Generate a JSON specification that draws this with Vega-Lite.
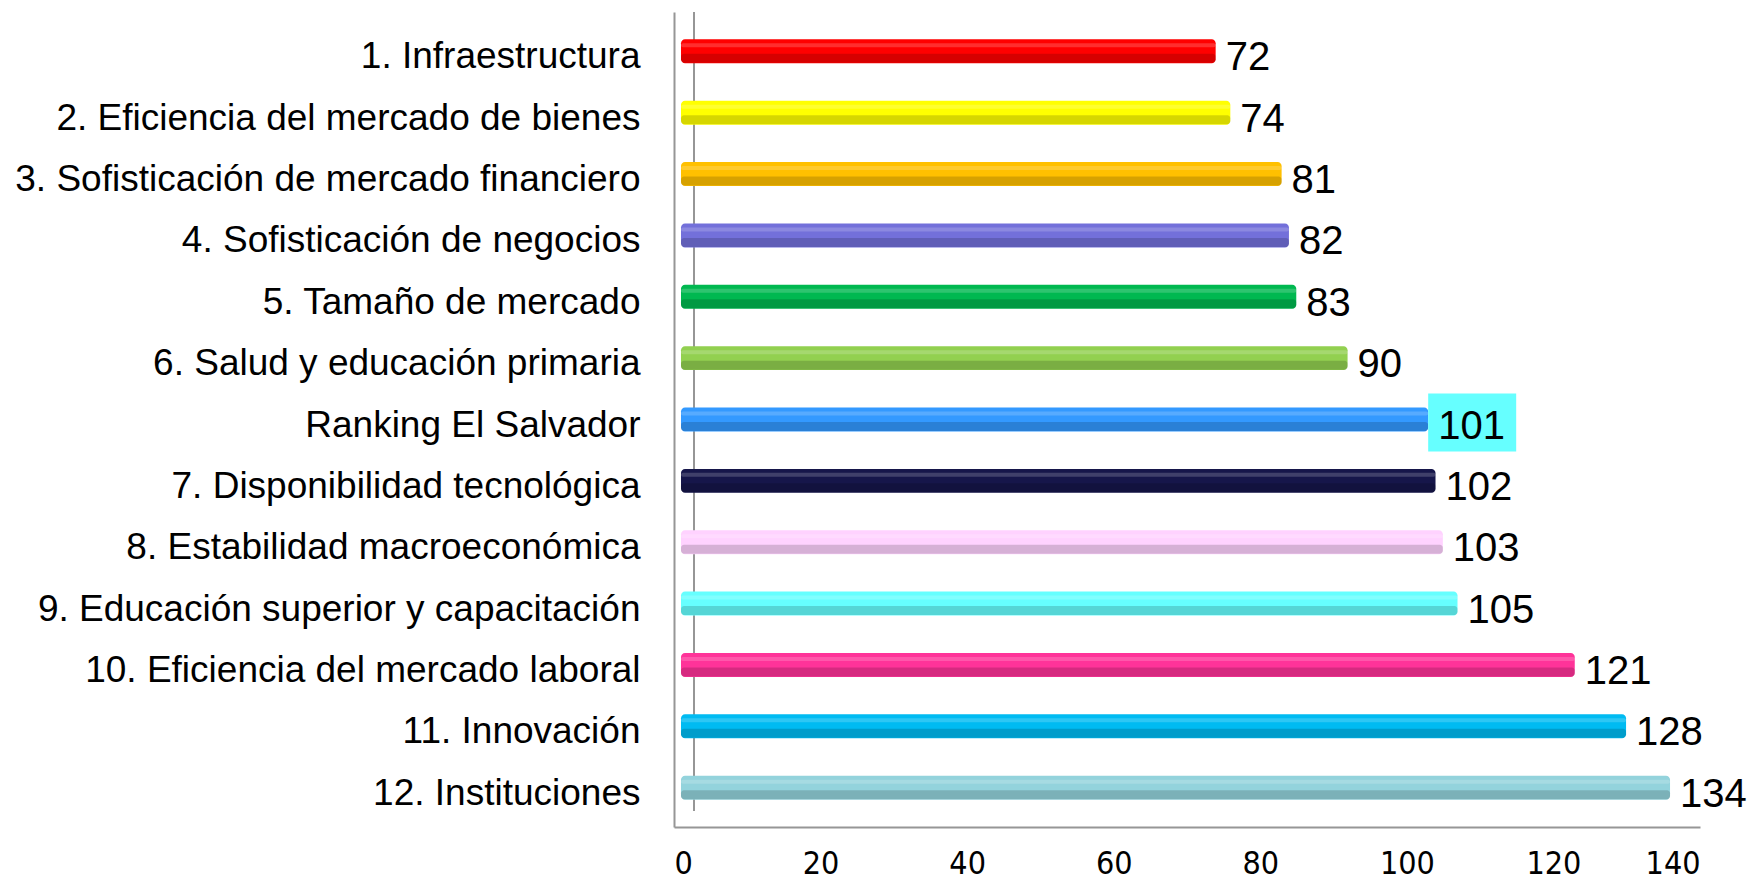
{
  "$schema": "https://vega.github.io/schema/vega-lite/v6.json",
  "width": 1026,
  "height": 815,
  "autosize": {"type": "none"},
  "padding": {"left": 674, "top": 12, "right": 52, "bottom": 53},
  "background": "white",
  "config": {"view": {"stroke": null}},
  "data": {
    "values": [
      {"cat": "1. Infraestructura", "value": 72, "color": "#FF0000"},
      {"cat": "2. Eficiencia del mercado de bienes", "value": 74, "color": "#FFFF00"},
      {"cat": "3. Sofisticación de mercado financiero", "value": 81, "color": "#FFC000"},
      {"cat": "4. Sofisticación de negocios", "value": 82, "color": "#7370DA"},
      {"cat": "5. Tamaño de mercado", "value": 83, "color": "#00B850"},
      {"cat": "6. Salud y educación primaria", "value": 90, "color": "#92D050"},
      {"cat": "Ranking El Salvador", "value": 101, "color": "#3399FF"},
      {"cat": "7. Disponibilidad tecnológica", "value": 102, "color": "#16164A"},
      {"cat": "8. Estabilidad macroeconómica", "value": 103, "color": "#FFD2FF"},
      {"cat": "9. Educación superior y capacitación", "value": 105, "color": "#66FFFF"},
      {"cat": "10. Eficiencia del mercado laboral", "value": 121, "color": "#FF3399"},
      {"cat": "11. Innovación", "value": 128, "color": "#00BBF2"},
      {"cat": "12. Instituciones", "value": 134, "color": "#93D3DC"}
    ]
  },
  "encoding": {
    "y": {
      "field": "cat",
      "type": "nominal",
      "sort": null,
      "scale": {"paddingInner": 0.61, "paddingOuter": 0.446},
      "axis": {
        "title": null,
        "ticks": false,
        "labelFont": "Liberation Sans, Arial, sans-serif",
        "labelFontSize": 37,
        "labelColor": "#000000",
        "labelPadding": 34,
        "labelOffset": 6,
        "labelLimit": 800,
        "domainColor": "#969696",
        "domainWidth": 2
      }
    }
  },
  "layer": [
    {
      "mark": {"type": "rule", "color": "#969696", "strokeWidth": 2, "xOffset": 20, "y2Offset": -16},
      "encoding": {
        "x": {"datum": 0, "type": "quantitative", "scale": {"domain": [0, 140]}},
        "y": {"value": 0},
        "y2": {"value": 815}
      }
    },
    {
      "mark": {"type": "bar", "xOffset": 14, "x2Offset": 7, "cornerRadius": 4},
      "encoding": {
        "x": {
          "field": "value",
          "type": "quantitative",
          "scale": {"domain": [0, 140], "nice": false, "zero": true},
          "axis": {
            "title": null,
            "values": [0, 20, 40, 60, 80, 100, 120, 140],
            "grid": false,
            "ticks": false,
            "labelFont": "DejaVu Sans Condensed, Liberation Sans Narrow, sans-serif",
            "labelFontSize": 32,
            "labelColor": "#000000",
            "labelPadding": 21,
            "domainColor": "#969696",
            "domainWidth": 2
          }
        },
        "x2": {"datum": 0},
        "color": {"field": "color", "type": "nominal", "scale": null, "legend": null}
      }
    },
    {
      "mark": {"type": "bar", "xOffset": 14, "x2Offset": 7, "height": 9, "yOffset": 7, "color": "#000000", "opacity": 0.16, "cornerRadius": 3},
      "encoding": {
        "x": {"field": "value", "type": "quantitative"},
        "x2": {"datum": 0}
      }
    },
    {
      "mark": {"type": "bar", "xOffset": 14, "x2Offset": 7, "height": 4, "yOffset": -6, "color": "#FFFFFF", "opacity": 0.18, "cornerRadius": 2},
      "encoding": {
        "x": {"field": "value", "type": "quantitative"},
        "x2": {"datum": 0}
      }
    },
    {
      "transform": [{"filter": "datum.cat === 'Ranking El Salvador'"}],
      "mark": {
        "type": "point",
        "shape": "M-1,-0.66L1,-0.66L1,0.66L-1,0.66Z",
        "size": 7744,
        "filled": true,
        "color": "#66FFFF",
        "opacity": 1,
        "xOffset": 58,
        "yOffset": 3
      },
      "encoding": {
        "x": {"field": "value", "type": "quantitative"}
      }
    },
    {
      "mark": {
        "type": "text",
        "align": "left",
        "baseline": "middle",
        "dx": 24,
        "dy": 7,
        "font": "Liberation Sans, Arial, sans-serif",
        "fontSize": 40,
        "color": "#000000"
      },
      "encoding": {
        "x": {"field": "value", "type": "quantitative"},
        "text": {"field": "value", "type": "quantitative"}
      }
    }
  ]
}
